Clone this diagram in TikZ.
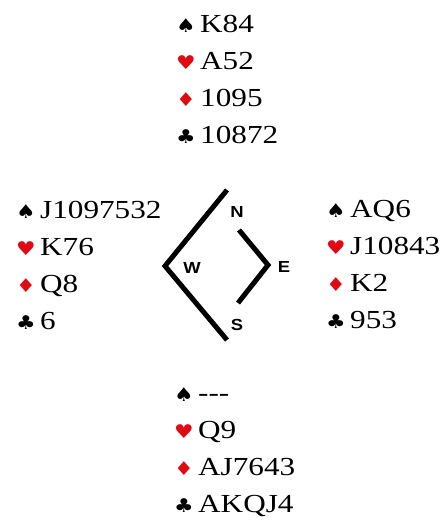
\documentclass[tikz,border=0pt]{standalone}
\usepackage{fontspec}
\usepackage{xcolor}
\usetikzlibrary{positioning}
\newfontfamily\cardfont[FakeStretch=1.2]{Liberation Serif}
\newfontfamily\compassfont[FakeStretch=1.15]{Liberation Sans}
\newfontfamily\suitfont[FakeStretch=1.15]{DejaVu Sans}
\definecolor{suitRed}{RGB}{225, 10, 20}
\newcommand{\suitbox}[2]{\makebox[24pt][l]{\textcolor{#1}{\suitfont\fontsize{19}{22}\selectfont #2}}}
\newcommand{\spd}{\suitbox{black}{♠}}
\newcommand{\hrt}{\suitbox{suitRed}{♥}}
\newcommand{\dmd}{\suitbox{suitRed}{♦}}
\newcommand{\clb}{\suitbox{black}{♣}}
\begin{document}
\begin{tikzpicture}[x=1pt, y=-1pt,
    hand/.style={anchor=base west, inner sep=0pt, font=\cardfont\fontsize{26}{30}\selectfont},
    seat/.style={inner sep=0pt, font=\compassfont\bfseries\fontsize{16}{18}\selectfont}]
        \useasboundingbox (0,0) rectangle (447,523);
        % north
        \node[hand] (ns) at (176,32) {\spd K84};
        \node[hand] (nh) at (176,69) {\hrt A52};
        \node[hand] (nd) at (176,106) {\dmd 1095};
        \node[hand] (nc) at (176,143) {\clb 10872};
        % west
        \node[hand] (ws) at (16,218) {\spd J1097532};
        \node[hand] (wh) at (16,255) {\hrt K76};
        \node[hand] (wd) at (16,292) {\dmd Q8};
        \node[hand] (wc) at (16,329) {\clb 6};
        % east
        \node[hand] (es) at (326,217) {\spd AQ6};
        \node[hand] (eh) at (326,254) {\hrt J10843};
        \node[hand] (ed) at (326,291) {\dmd K2};
        \node[hand] (ec) at (326,328) {\clb 953};
        % south
        \node[hand] (ss) at (174,401) {\spd -{}-{}-};
        \node[hand] (sh) at (174,438) {\hrt Q9};
        \node[hand] (sd) at (174,475) {\dmd AJ7643};
        \node[hand] (sc) at (174,512) {\clb AKQJ4};

        % compass
        \draw[line width=5pt] (227,190) -- (165,266) -- (227,340);
        \draw[line width=5pt] (239,230) -- (268,265) -- (238,303);
        \node[seat] (n) at (237,212) {N};
        \node[seat] (w) at (192,268) {W};
        \node[seat] (e) at (284,267) {E};
        \node[seat] (s) at (237,325) {S};
    \end{tikzpicture}
\end{document}
